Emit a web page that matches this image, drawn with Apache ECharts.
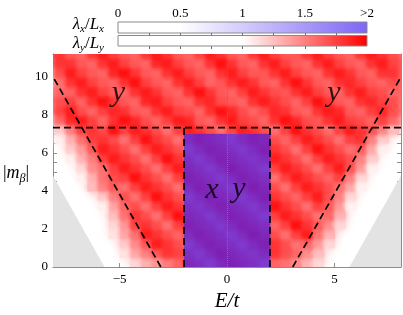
<!DOCTYPE html>
<html><head><meta charset="utf-8">
<script src="https://cdn.jsdelivr.net/npm/echarts@6/dist/echarts.min.js"></script>
<style>html,body{margin:0;padding:0;background:#fff}#c{width:403px;height:315px}</style>
</head><body><div id="c"></div>
<script>
// ---- data ----
const eCenters = [-8.25,-7.75,-7.25,-6.75,-6.25,-5.75,-5.25,-4.75,-4.25,-3.75,-3.25,-2.75,-2.25,-1.75,-1.25,-0.75,-0.25,0.25,0.75,1.25,1.75,2.25,2.75,3.25,3.75,4.25,4.75,5.25,5.75,6.25,6.75,7.25,7.75,8.25];
const mCenters = [0.25,0.75,1.25,1.75,2.25,2.75,3.25,3.75,4.25,4.75,5.25,5.75,6.25,6.75,7.25,7.75,8.25,8.75,9.25,9.75,10.25,10.75,11.25];
// lambda_y / L_y : one row per mCenters entry, one column per eCenters entry
const lambdaY = [
[0.8,0.8,0.8,0.8,0.8,0.8,0.8,1.0,1.15,1.3,1.4,1.5,1.6,1.8,1.7,1.55,1.75,1.9,1.8,1.7,1.55,1.6,1.55,1.45,1.3,1.15,0.9,0.8,0.8,0.8,0.8,0.8,0.8,0.8],
[0.8,0.8,0.8,0.8,0.8,0.8,0.8,1.1,1.35,1.5,1.65,1.8,1.75,1.7,1.55,1.75,1.95,1.8,1.7,1.6,1.75,1.8,1.7,1.6,1.45,1.25,1.0,0.8,0.8,0.8,0.8,0.8,0.8,0.8],
[0.8,0.8,0.8,0.8,0.8,0.8,1.0,1.2,1.45,1.65,1.9,1.8,1.7,1.55,1.75,1.9,1.8,1.7,1.55,1.75,1.9,1.8,1.7,1.55,1.6,1.4,1.15,0.9,0.8,0.8,0.8,0.8,0.8,0.8],
[0.8,0.8,0.8,0.8,0.8,0.8,1.1,1.35,1.55,1.9,1.8,1.7,1.6,1.75,1.9,1.8,1.7,1.55,1.75,1.95,1.8,1.7,1.55,1.75,1.9,1.55,1.3,1.0,0.8,0.8,0.8,0.8,0.8,0.8],
[0.8,0.8,0.8,0.8,0.8,0.8,1.15,1.4,1.75,1.8,1.7,1.55,1.75,1.9,1.8,1.7,1.55,1.75,1.9,1.8,1.7,1.6,1.75,1.95,1.8,1.65,1.45,1.15,0.8,0.8,0.8,0.8,0.8,0.8],
[0.8,0.8,0.8,0.8,0.8,1.0,1.25,1.55,1.8,1.7,1.55,1.75,1.95,1.8,1.7,1.55,1.75,1.9,1.8,1.7,1.55,1.75,1.9,1.8,1.7,1.55,1.6,1.3,0.95,0.8,0.8,0.8,0.8,0.8],
[0.8,0.8,0.8,0.8,0.8,1.05,1.35,1.6,1.7,1.55,1.75,1.9,1.8,1.7,1.6,1.75,1.9,1.8,1.7,1.55,1.75,1.95,1.8,1.7,1.55,1.75,1.65,1.4,1.05,0.8,0.8,0.8,0.8,0.8],
[0.8,0.8,0.8,0.8,0.95,1.2,1.5,1.7,1.55,1.75,1.95,1.8,1.7,1.55,1.75,1.9,1.8,1.7,1.55,1.75,1.9,1.8,1.7,1.6,1.75,1.9,1.7,1.5,1.15,0.9,0.8,0.8,0.8,0.8],
[0.8,0.8,0.8,1.0,1.25,1.5,1.65,1.55,1.75,1.9,1.8,1.7,1.55,1.75,1.9,1.8,1.7,1.55,1.75,1.95,1.8,1.7,1.55,1.75,1.9,1.8,1.7,1.55,1.35,1.05,0.8,0.8,0.8,0.8],
[0.8,0.8,0.8,1.05,1.3,1.55,1.7,1.75,1.95,1.8,1.7,1.55,1.75,1.9,1.8,1.7,1.55,1.75,1.9,1.8,1.7,1.55,1.75,1.9,1.8,1.7,1.6,1.75,1.5,1.15,0.9,0.8,0.8,0.8],
[0.8,0.8,0.95,1.15,1.45,1.55,1.75,1.9,1.8,1.7,1.55,1.75,1.9,1.8,1.7,1.55,1.75,1.95,1.8,1.7,1.55,1.75,1.9,1.8,1.7,1.55,1.75,1.9,1.7,1.4,1.05,0.8,0.8,0.8],
[0.8,0.8,1.05,1.3,1.5,1.75,1.9,1.8,1.7,1.55,1.75,1.95,1.8,1.7,1.55,1.75,1.9,1.8,1.7,1.6,1.75,1.9,1.8,1.7,1.55,1.75,1.9,1.8,1.7,1.5,1.2,0.9,0.8,0.8],
[0.8,0.95,1.2,1.4,1.65,1.9,1.8,1.7,1.55,1.75,1.9,1.8,1.7,1.55,1.75,1.9,1.8,1.7,1.55,1.75,1.9,1.8,1.7,1.55,1.75,1.95,1.8,1.7,1.55,1.65,1.35,1.05,0.8,0.8],
[0.85,1.05,1.3,1.55,1.75,1.8,1.7,1.55,1.75,1.95,1.8,1.7,1.55,1.75,1.9,1.8,1.7,1.55,1.75,1.9,1.8,1.7,1.6,1.75,1.9,1.8,1.7,1.55,1.75,1.8,1.5,1.2,0.9,0.8],
[1.0,1.2,1.5,1.75,1.8,1.7,1.95,1.75,1.9,1.8,1.7,1.55,1.75,1.9,1.8,1.7,1.55,1.75,1.9,1.8,1.7,1.55,1.75,1.95,1.8,1.7,1.55,1.75,1.9,1.8,1.7,1.5,1.25,1.0],
[1.35,1.6,1.85,1.9,1.75,1.6,1.8,1.95,1.85,1.7,1.6,1.75,1.9,1.85,1.65,1.6,1.8,1.9,1.75,1.7,1.6,1.8,1.95,1.85,1.7,1.65,1.8,1.9,1.75,1.7,1.6,1.75,1.6,1.4],
[1.5,1.75,1.9,1.7,1.6,1.75,1.85,1.8,1.65,1.6,1.8,1.9,1.75,1.7,1.6,1.8,1.95,1.85,1.7,1.6,1.7,1.85,1.8,1.65,1.6,1.8,1.9,1.85,1.65,1.6,1.75,1.85,1.7,1.55],
[1.55,1.7,1.75,1.6,1.8,1.95,1.8,1.65,1.6,1.85,1.9,1.75,1.65,1.6,1.8,1.85,1.7,1.65,1.6,1.8,1.9,1.8,1.7,1.6,1.75,1.95,1.8,1.65,1.6,1.8,1.85,1.75,1.7,1.55],
[1.5,1.6,1.6,1.8,1.9,1.75,1.65,1.6,1.8,1.9,1.8,1.65,1.6,1.8,1.95,1.8,1.65,1.6,1.75,1.9,1.8,1.7,1.65,1.8,1.9,1.75,1.65,1.6,1.8,1.9,1.75,1.7,1.6,1.6],
[1.4,1.55,1.8,1.9,1.75,1.65,1.6,1.8,1.95,1.75,1.65,1.6,1.8,1.9,1.75,1.6,1.65,1.8,1.9,1.8,1.65,1.6,1.8,1.95,1.8,1.65,1.6,1.8,1.85,1.75,1.65,1.6,1.7,1.6],
[1.45,1.7,1.9,1.75,1.65,1.6,1.85,1.95,1.8,1.65,1.6,1.8,1.9,1.75,1.65,1.6,1.8,1.9,1.75,1.65,1.65,1.8,1.9,1.75,1.65,1.6,1.8,1.9,1.8,1.65,1.6,1.8,1.8,1.65],
[1.6,1.8,1.8,1.65,1.6,1.8,1.9,1.75,1.65,1.6,1.85,1.9,1.75,1.65,1.6,1.8,1.95,1.8,1.65,1.6,1.8,1.9,1.75,1.65,1.6,1.8,1.9,1.75,1.65,1.6,1.8,1.9,1.75,1.65],
[1.7,1.8,1.65,1.6,1.8,1.9,1.75,1.65,1.6,1.8,1.9,1.8,1.65,1.6,1.75,1.9,1.8,1.65,1.6,1.8,1.9,1.75,1.65,1.65,1.8,1.9,1.75,1.65,1.6,1.8,1.9,1.8,1.7,1.6]
];
// lambda_x / L_x inside the central block (elsewhere ~0)
const eCentersX = [-1.75,-1.25,-0.75,-0.25,0.25,0.75,1.25,1.75];
const mCentersX = [0.25,0.75,1.25,1.75,2.25,2.75,3.25,3.75,4.25,4.75,5.25,5.75,6.25,6.75];
const lambdaX = [
[2.2,2.3,2.2,2.4,2.3,2.2,2.3,2.2],
[2.3,2.2,2.4,2.3,2.2,2.4,2.3,2.2],
[2.2,2.4,2.3,2.2,2.3,2.2,2.4,2.3],
[2.4,2.3,2.2,2.3,2.4,2.3,2.2,2.3],
[2.2,2.3,2.4,2.2,2.3,2.4,2.3,2.2],
[2.3,2.2,2.3,2.4,2.2,2.3,2.2,2.4],
[2.2,2.4,2.2,2.3,2.3,2.2,2.4,2.3],
[2.3,2.2,2.3,2.2,2.4,2.3,2.2,2.2],
[2.4,2.3,2.2,2.3,2.2,2.4,2.3,2.3],
[2.2,2.3,2.4,2.2,2.3,2.2,2.3,2.4],
[2.3,2.2,2.3,2.4,2.2,2.3,2.4,2.2],
[2.2,2.4,2.2,2.3,2.4,2.2,2.3,2.3],
[2.3,2.2,2.3,2.2,2.3,2.4,2.2,2.3],
[2.1,2.1,2.0,2.1,2.0,2.1,2.1,2.0]
];
const xTickValues = [-8,-7,-6,-5,-4,-3,-2,-1,0,1,2,3,4,5,6,7,8];
const xLabelValues = [-5,0,5];
const yTickValues = [0,0.5,1,1.5,2,2.5,3,3.5,4,4.5,5,5.5,6,6.5,7,7.5,8,8.5,9,9.5,10,10.5,11];
const yLabelValues = [0,2,4,6,8,10];
const barTickValues = [0.25,0.5,0.75,1,1.25,1.5,1.75];
const barLabelValues = [0,0.5,1,1.5,2];
const barStopsX = [0,0.5,2];
const barStopsY = [0,1,2];
const dashH = [[-8.1,7.33],[8.1,7.33]];
const dashLeft = [[-3.08,0],[-8.1,10.0]];
const dashRight = [[3.06,0],[8.1,10.0]];
const dashBoxL = [[-2,0],[-2,7.33]];
const dashBoxR = [[2,0],[2,7.33]];
const grayLeft = [[-8.1,4.8],[-5.7,0]];
const grayRight = [[5.7,0],[8.1,4.8]];
const textMarks = [[-5.06,9.13,'y'],[4.98,9.13,'y'],[-0.70,4.06,'x'],[0.56,4.07,'y']];

// ---- colour maps ----
const HALF = 0.25;
const FONT = 'Liberation Serif';
const clamp = (v,a,b)=>Math.max(a,Math.min(b,v));
function redRGB(v){ const t = clamp((v-1)/1,0,1); const g = 255*(1-t); return [255,g,g]; }
const BLUE = [70,35,245];
function blueAlpha(v){ return 0.7*clamp((v-0.5)/1.5,0,1); }
function mix(base, a){ return base.map((c,i)=>Math.round(c*(1-a)+BLUE[i]*a)); }
const rgb = a => 'rgb('+a.map(Math.round).join(',')+')';
const rgba = (a,al) => 'rgba('+a.map(Math.round).join(',')+','+al+')';
const redColor = v => rgb(redRGB(v));
const blueOnWhite = v => rgb(mix([255,255,255], blueAlpha(v)));

const redData = [];
mCenters.forEach((m,r)=>eCenters.forEach((e,c)=>{ if (lambdaY[r][c] > 1) redData.push([e,m,lambdaY[r][c]]); }));
const bothData = [];
mCentersX.forEach((m,r)=>eCentersX.forEach((e,c)=>{
  const ly = lambdaY[mCenters.indexOf(m)][eCenters.indexOf(e)];
  bothData.push([e,m,ly,lambdaX[r][c]]);
}));
const boxE = [Math.min(...eCentersX)-HALF, Math.max(...eCentersX)+HALF];
const boxM = [Math.min(...mCentersX)-HALF, Math.max(...mCentersX)+HALF];

function rectFor(api, e0, e1, m0, m1, pad){
  const a = api.coord([e0, m1]);
  const b = api.coord([e1, m0]);
  return {x:a[0], y:a[1], width:b[0]-a[0]+pad, height:b[1]-a[1]+pad};
}
function splat(rgbArr, alpha){
  return new echarts.graphic.RadialGradient(0.5,0.5,0.5,[
    {offset:0, color:rgba(rgbArr,alpha)},
    {offset:0.55, color:rgba(rgbArr,alpha*0.55)},
    {offset:1, color:rgba(rgbArr,0)}]);
}
// red: sharp base cells (soft shadow edge) + soft splats on top
function redBase(params, api){
  const e = api.value(0), m = api.value(1);
  const col = redColor(api.value(2));
  return {type:'rect', shape:rectFor(api, e-HALF, e+HALF, m-HALF, m+HALF, 0.5), style:{fill:col, shadowBlur:12, shadowColor:col}};
}
function redSoft(params, api){
  const e = api.value(0), m = api.value(1);
  return {type:'rect', shape:rectFor(api, e-2*HALF, e+2*HALF, m-2*HALF, m+2*HALF, 0), style:{fill:splat(redRGB(api.value(2)), 0.9)}};
}
function bothColor(api){ return mix(redRGB(api.value(2)), blueAlpha(api.value(3))); }
function bothBase(params, api){
  const e = api.value(0), m = api.value(1);
  return {type:'rect', shape:rectFor(api, e-HALF, e+HALF, m-HALF, m+HALF, 0.5), style:{fill:rgb(bothColor(api))}};
}
function bothSoft(params, api){
  const e = api.value(0), m = api.value(1);
  const e0 = Math.max(boxE[0], e-2*HALF), e1 = Math.min(boxE[1], e+2*HALF);
  const m0 = Math.max(boxM[0], m-2*HALF), m1 = Math.min(boxM[1], m+2*HALF);
  const c = bothColor(api);
  const full = rectFor(api, e-2*HALF, e+2*HALF, m-2*HALF, m+2*HALF, 0);
  const cut = rectFor(api, e0, e1, m0, m1, 0);
  const g = new echarts.graphic.RadialGradient(full.x+full.width/2, full.y+full.height/2, full.width/2,[
    {offset:0, color:rgba(c,0.9)},{offset:0.55, color:rgba(c,0.5)},{offset:1, color:rgba(c,0)}], true);
  return {type:'rect', shape:cut, style:{fill:g}};
}
function barRender(stops, colorFn){
  return function(params, api){
    const lo = api.value(0), hi = api.value(1);
    const a = api.coord([lo,1]); const b = api.coord([hi,0]);
    const grad = new echarts.graphic.LinearGradient(0,0,1,0, stops.map(s=>({offset:(s-lo)/(hi-lo), color:colorFn(s)})));
    return {type:'rect', shape:{x:a[0], y:a[1], width:b[0]-a[0], height:b[1]-a[1]}, style:{fill:grad, stroke:'#8a8a8a', lineWidth:1}};
  };
}
const minusFmt = v => v<0 ? '\u2212'+(-v) : String(v);
const frameColor = '#8c8c8c';
const dashStyle = {color:'#000', width:1.7, type:[7,4]};
function dashSeries(d){ return {type:'line', xAxisIndex:0, yAxisIndex:0, data:d, symbol:'none', lineStyle:dashStyle, z:5, silent:true}; }
function cellSeries(data, fn, z){ return {type:'custom', xAxisIndex:0, yAxisIndex:0, data:data, encode:{x:0,y:1}, clip:true, renderItem:fn, silent:true, z:z}; }
const richName = {
  i:{fontFamily:FONT, fontStyle:'italic', fontSize:17, color:'#000', lineHeight:20},
  s:{fontFamily:FONT, fontStyle:'italic', fontSize:11, color:'#000', lineHeight:12, verticalAlign:'bottom'}
};

const chart = echarts.init(document.getElementById('c'), null, {renderer:'canvas'});
chart.setOption({
  animation:false,
  backgroundColor:'#fff',
  textStyle:{fontFamily:FONT},
  grid:[
    {left:53, right:2, top:54, bottom:48, outerBoundsMode:'none'},
    {left:118, top:22, width:249, height:11, outerBoundsMode:'none'},
    {left:118, top:35.5, width:249, height:10.5, outerBoundsMode:'none'}
  ],
  xAxis:[
    {gridIndex:0, type:'value', position:'bottom', min:-8.1, max:8.1,
     axisLine:{show:true, onZero:false, lineStyle:{color:frameColor}},
     axisTick:{show:true, inside:true, length:4, customValues:xTickValues, lineStyle:{color:frameColor}},
     axisLabel:{show:true, customValues:xLabelValues, formatter:minusFmt, color:'#000', fontFamily:FONT, fontSize:13, margin:6},
     splitLine:{show:false},
     name:'E/t', nameLocation:'middle', nameGap:21,
     nameTextStyle:{fontFamily:FONT, fontStyle:'italic', fontSize:21, color:'#000'}},
    {gridIndex:0, type:'value', position:'top', min:-8.1, max:8.1,
     axisLine:{show:true, onZero:false, lineStyle:{color:frameColor}},
     axisTick:{show:true, inside:true, length:4, customValues:xTickValues, lineStyle:{color:frameColor}},
     axisLabel:{show:false}, splitLine:{show:false}},
    {gridIndex:1, type:'value', position:'top', min:0, max:2,
     axisLine:{show:false},
     axisTick:{show:true, inside:true, length:3, customValues:barTickValues, lineStyle:{color:'#666'}},
     axisLabel:{show:true, customValues:barLabelValues, formatter:v=>v===2?'>2':String(v), color:'#000', fontFamily:FONT, fontSize:13, margin:2},
     splitLine:{show:false}},
    {gridIndex:2, type:'value', position:'top', min:0, max:2,
     axisLine:{show:false},
     axisTick:{show:true, inside:true, length:3, customValues:barTickValues, lineStyle:{color:'#666'}},
     axisLabel:{show:false}, splitLine:{show:false}}
  ],
  yAxis:[
    {gridIndex:0, type:'value', position:'left', min:0, max:11.2,
     axisLine:{show:true, onZero:false, lineStyle:{color:frameColor}},
     axisTick:{show:true, inside:true, length:4, customValues:yTickValues, lineStyle:{color:frameColor}},
     axisLabel:{show:true, customValues:yLabelValues, color:'#000', fontFamily:FONT, fontSize:13, margin:5},
     splitLine:{show:false},
     name:'|{i|m}{s|β}|', nameLocation:'middle', nameRotate:0, nameGap:18,
     nameTextStyle:{fontFamily:FONT, fontSize:18, color:'#000', padding:[26,0,0,0], rich:{
       i:{fontFamily:FONT, fontStyle:'italic', fontSize:18, color:'#000', lineHeight:22},
       s:{fontFamily:FONT, fontStyle:'italic', fontSize:12, color:'#000', lineHeight:13, verticalAlign:'bottom'}}}},
    {gridIndex:0, type:'value', position:'right', min:0, max:11.2,
     axisLine:{show:true, onZero:false, lineStyle:{color:frameColor}},
     axisTick:{show:true, inside:true, length:4, customValues:yTickValues, lineStyle:{color:frameColor}},
     axisLabel:{show:false}, splitLine:{show:false}},
    {gridIndex:1, type:'value', min:0, max:1, axisLine:{show:false}, axisTick:{show:false}, axisLabel:{show:false}, splitLine:{show:false},
     name:'{i|λ}{s|x}/{i|L}{s|x}', nameLocation:'middle', nameRotate:0, nameGap:14,
     nameTextStyle:{fontFamily:FONT, fontSize:17, color:'#000', padding:[0,0,5,0], rich:richName}},
    {gridIndex:2, type:'value', min:0, max:1, axisLine:{show:false}, axisTick:{show:false}, axisLabel:{show:false}, splitLine:{show:false},
     name:'{i|λ}{s|y}/{i|L}{s|y}', nameLocation:'middle', nameRotate:0, nameGap:14,
     nameTextStyle:{fontFamily:FONT, fontSize:17, color:'#000', padding:[5,0,0,0], rich:richName}}
  ],
  series:[
    cellSeries(redData, redBase, 1),
    cellSeries(redData, redSoft, 1),
    cellSeries(bothData, bothBase, 2),
    cellSeries(bothData, bothSoft, 2),
    {type:'line', xAxisIndex:0, yAxisIndex:0, data:grayLeft, symbol:'none', lineStyle:{width:0}, areaStyle:{color:'#e3e3e3', opacity:1}, z:3, silent:true},
    {type:'line', xAxisIndex:0, yAxisIndex:0, data:grayRight, symbol:'none', lineStyle:{width:0}, areaStyle:{color:'#e3e3e3', opacity:1}, z:3, silent:true,
     markLine:{symbol:'none', silent:true, label:{show:false}, lineStyle:{color:'#777', type:'dotted', width:1}, data:[{xAxis:0}]}},
    dashSeries(dashH), dashSeries(dashLeft), dashSeries(dashRight), dashSeries(dashBoxL), dashSeries(dashBoxR),
    {type:'scatter', xAxisIndex:0, yAxisIndex:0, symbolSize:1, itemStyle:{color:'rgba(0,0,0,0)'}, z:10, silent:true,
     data:textMarks.map(t=>({value:[t[0],t[1]], name:t[2]})),
     label:{show:true, position:'inside', formatter:'{b}', fontFamily:FONT, fontStyle:'italic', fontSize:30, color:'#000'}},
    {type:'custom', xAxisIndex:2, yAxisIndex:2, data:[[0,2]], encode:{x:[0,1]}, renderItem:barRender(barStopsX, blueOnWhite), silent:true},
    {type:'custom', xAxisIndex:3, yAxisIndex:3, data:[[0,2]], encode:{x:[0,1]}, renderItem:barRender(barStopsY, redColor), silent:true}
  ]
});
</script></body></html>
